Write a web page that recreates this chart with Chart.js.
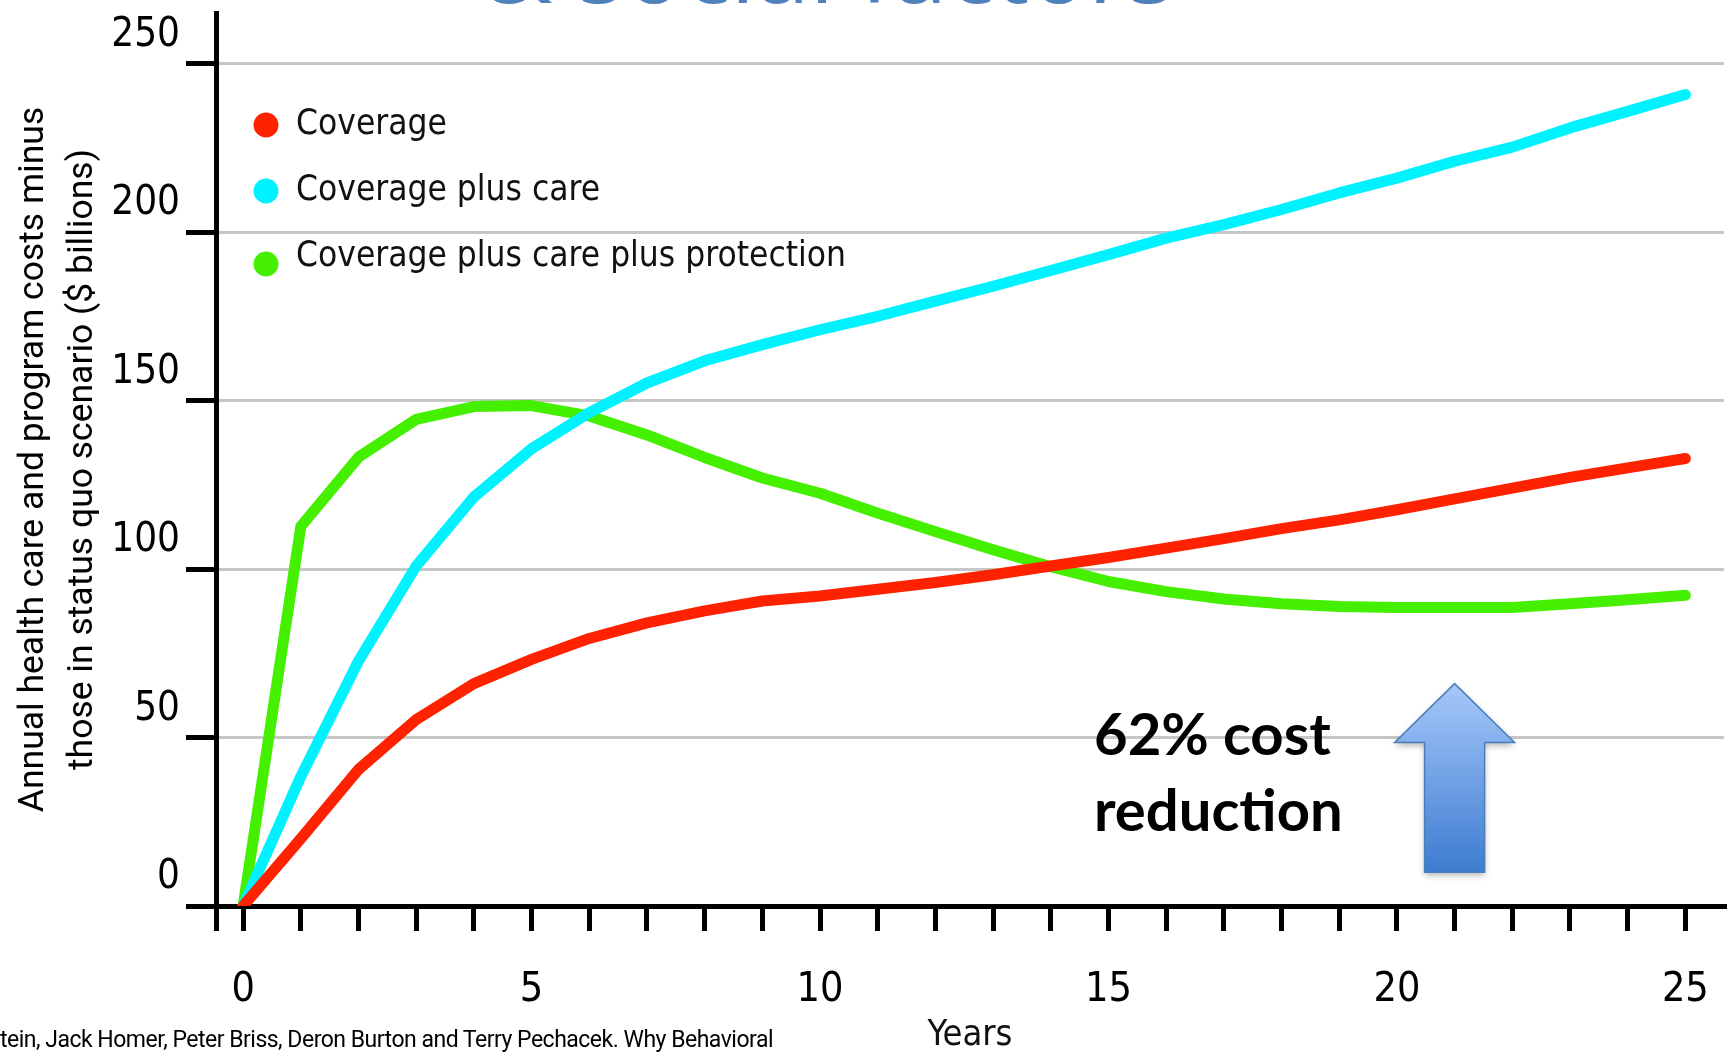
<!DOCTYPE html>
<html>
<head>
<meta charset="utf-8">
<script src="https://cdn.jsdelivr.net/npm/chart.js@4.4.1/dist/chart.umd.min.js"></script>
<style>
html,body{margin:0;padding:0;background:#fff;overflow:hidden;}
#wrap{position:relative;width:1733px;height:1052px;overflow:hidden;}
#c{position:absolute;left:0;top:0;}
.slide-title{position:absolute;left:481px;top:-84px;font-family:'Open Sans',sans-serif;font-size:98px;line-height:98px;color:#4f81bd;white-space:nowrap;}
.cite{position:absolute;left:0;top:1028px;font-family:Roboto,sans-serif;font-size:23px;line-height:23px;letter-spacing:-0.5px;color:#000;white-space:nowrap;}
.note{position:absolute;left:1094px;top:695px;font-family:Lato,sans-serif;font-weight:700;font-size:58px;line-height:76px;color:#000;white-space:nowrap;}
</style>
</head>
<body>
<div id="wrap">
<canvas id="c" width="1733" height="1052"></canvas>
<div class="slide-title">&amp; social factors</div>
<div class="note">62% cost<br>reduction</div>
<div class="cite">tein, Jack Homer, Peter Briss, Deron Burton and Terry Pechacek. Why Behavioral</div>
</div>
<script>
// ---- data ----
const years = [0,1,2,3,4,5,6,7,8,9,10,11,12,13,14,15,16,17,18,19,20,21,22,23,24,25];
const coverage = [0,20,40.5,55.3,66,73.2,79.4,84,87.6,90.5,92,94,96,98.3,100.9,103.4,106.2,109,112,114.6,117.6,120.8,124,127.2,130,132.8];
const coveragePlusCare = [0,38.4,72.7,100.9,121.4,135.7,146.4,155.2,161.8,166.6,171,175,179.5,183.9,188.6,193.3,198.2,202.2,206.7,211.6,216,221,225.2,230.9,235.8,240.8];
const coveragePlusCarePlusProtection = [0,112.6,133.2,144.4,148.2,148.5,145.4,139.8,133.1,127,122.5,116.6,111.1,105.7,100.7,96.3,93.3,91.1,89.7,88.9,88.6,88.6,88.6,89.7,90.9,92.2];
const seriesLabels = ['Coverage','Coverage plus care','Coverage plus care plus protection'];
const seriesColors = ['#ff2200','#00f2ff','#44f000'];
const yTickValues = [0,50,100,150,200,250];
const xLabelYears = [0,5,10,15,20,25];
const yTitleLines = ['Annual health care and program costs minus','those in status quo scenario ($ billions)'];
const xTitle = 'Years';
// annotation arrow (data coordinates)
const arrowYear = 21;
const arrowTipValue = 66;
const arrowHeadBaseValue = 48.5;
const arrowBottomValue = 10;

const toPoints = arr => years.map((yr,i)=>({x:yr,y:arr[i]}));
const seriesData = [coverage, coveragePlusCare, coveragePlusCarePlusProtection];

const condensed = "'DejaVu Sans Condensed','DejaVu Sans',sans-serif";

const extras = {
  id:'extras',
  afterDatasetsDraw(chart){
    const {ctx, chartArea, scales:{x,y}} = chart;
    // arrow
    const ax = x.getPixelForValue(arrowYear);
    const tip = y.getPixelForValue(arrowTipValue);
    const hb = y.getPixelForValue(arrowHeadBaseValue);
    const bot = y.getPixelForValue(arrowBottomValue);
    const sw = 30, hw = 60;
    ctx.save();
    const g = ctx.createLinearGradient(0, tip, 0, bot);
    g.addColorStop(0,'#a6c8fa');
    g.addColorStop(1,'#3d7cd0');
    ctx.beginPath();
    ctx.moveTo(ax, tip);
    ctx.lineTo(ax+hw, hb);
    ctx.lineTo(ax+sw, hb);
    ctx.lineTo(ax+sw, bot);
    ctx.lineTo(ax-sw, bot);
    ctx.lineTo(ax-sw, hb);
    ctx.lineTo(ax-hw, hb);
    ctx.closePath();
    ctx.shadowColor='rgba(0,0,0,0.3)';
    ctx.shadowBlur=6;
    ctx.shadowOffsetY=3;
    ctx.fillStyle=g;
    ctx.fill();
    ctx.shadowColor='transparent';
    ctx.lineWidth=1.5;
    ctx.strokeStyle='#4a7ebb';
    ctx.stroke();
    ctx.restore();
    // legend
    ctx.save();
    ctx.font = "35px " + condensed;
    ctx.textBaseline='middle';
    ctx.textAlign='left';
    chart.data.datasets.forEach((ds,i)=>{
      const cy = chartArea.top + 112 + i*66;
      ctx.fillStyle = ds.borderColor;
      ctx.beginPath();
      ctx.arc(chartArea.left + 50, cy + (i===2?7:0), 12.5, 0, Math.PI*2);
      ctx.fill();
      ctx.fillStyle='#111';
      ctx.fillText(ds.label, chartArea.left + 80, cy);
    });
    ctx.restore();
  }
};

new Chart(document.getElementById('c'), {
  type:'line',
  data:{
    datasets: seriesData.map((arr,i)=>({
      label: seriesLabels[i],
      data: toPoints(arr),
      borderColor: seriesColors[i],
      backgroundColor: seriesColors[i],
      borderWidth: 11,
      borderCapStyle:'round',
      borderJoinStyle:'round',
      pointRadius:0,
      tension:0,
      fill:false
    }))
  },
  options:{
    responsive:false,
    animation:false,
    devicePixelRatio:1,
    layout:{padding:{top:13,right:9,left:0,bottom:0}},
    plugins:{legend:{display:false},tooltip:{enabled:false}},
    scales:{
      x:{
        type:'linear', position:'bottom', min:-0.47, max:25.67,
        afterFit(s){ s.height = 146; s.paddingLeft = 0; s.paddingRight = 0; },
        afterBuildTicks(s){ s.ticks.unshift({value:s.min}); },
        ticks:{stepSize:1, includeBounds:false, autoSkip:false, maxRotation:0, padding:35, color:'#000',
          font:{family:condensed, size:41},
          callback:(v)=> xLabelYears.includes(v) ? String(v) : ''},
        grid:{drawOnChartArea:false, drawTicks:true, tickLength:25, tickWidth:5, tickColor:'#000', lineWidth:5},
        border:{display:true, color:'#000', width:5},
        title:{display:true, text:xTitle, color:'#111', font:{family:condensed, size:36}, padding:{top:0,bottom:-5}}
      },
      y:{
        type:'linear', position:'left', min:0, max:265,
        afterFit(s){ s.width = 216; s.paddingTop = 0; s.paddingBottom = 0; },
        afterBuildTicks(s){ s.ticks = yTickValues.map(v=>({value:v})); },
        ticks:{labelOffset:-28, padding:6, color:'#000', font:{family:condensed, size:40}},
        grid:{color:'#c6c6c6', lineWidth:3, tickColor:'#000', tickWidth:5, tickLength:30},
        border:{display:true, color:'#000', width:5},
        title:{display:true, text:yTitleLines, color:'#000', font:{family:"Roboto,sans-serif", size:35.5, lineHeight:1.4}, padding:{top:9,bottom:0}}
      }
    }
  },
  plugins:[extras]
});
</script>
</body>
</html>
